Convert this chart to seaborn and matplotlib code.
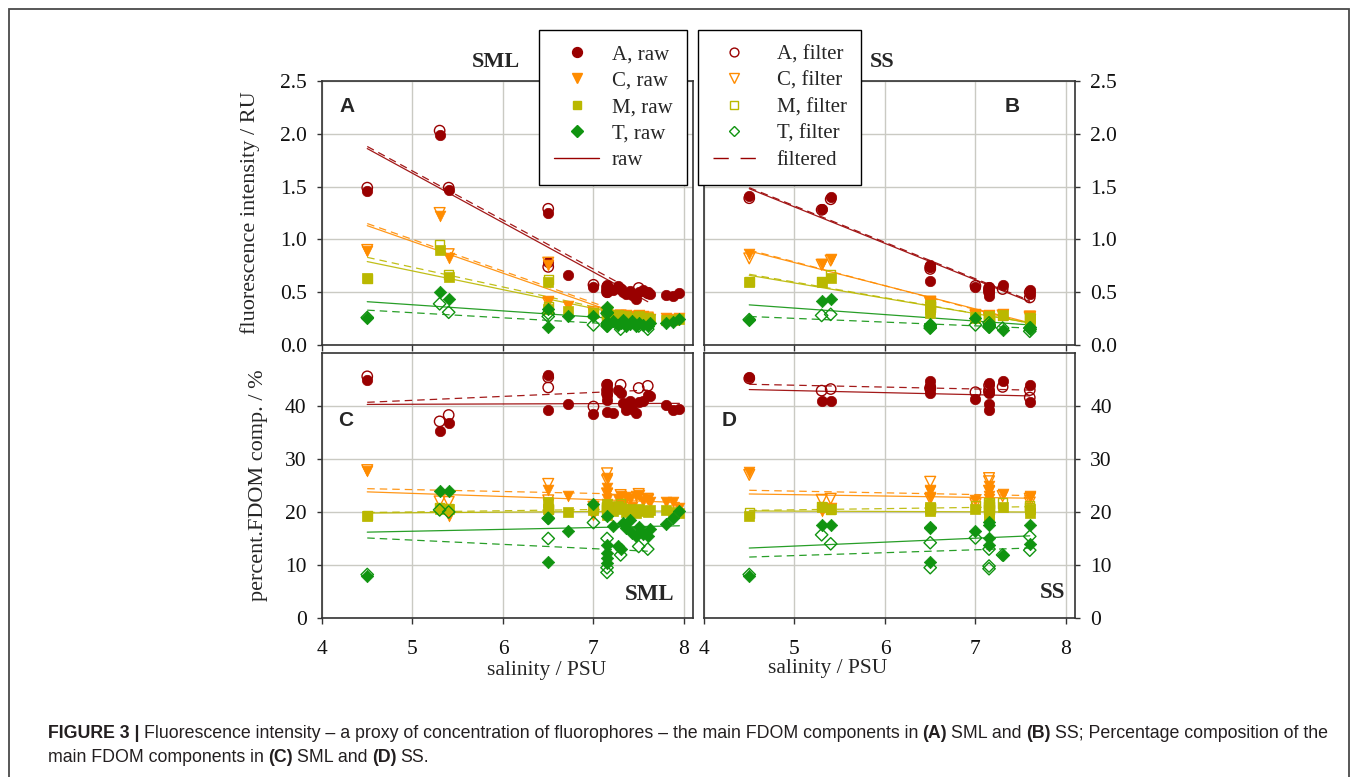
import matplotlib
matplotlib.use("Agg")
import numpy as np
import pandas as pd
import matplotlib.pyplot as plt
import seaborn as sns
from matplotlib.lines import Line2D
from matplotlib.patches import Rectangle
from matplotlib import font_manager

# ---------------------------------------------------------------- data
# SML (surface microlayer) - raw samples
sal_sml_raw = [4.5, 5.3, 5.4, 6.5, 6.5, 6.72, 7.0, 7.15, 7.15, 7.15, 7.15, 7.15, 7.22, 7.27,
               7.3, 7.33, 7.36, 7.4, 7.43, 7.47, 7.5, 7.55, 7.6, 7.63, 7.8, 7.88, 7.95]
A_sml_raw = [1.46, 1.99, 1.47, 1.25, 0.79, 0.66, 0.55, 0.57, 0.55, 0.52, 0.50, 0.56, 0.52, 0.56,
             0.53, 0.50, 0.48, 0.51, 0.47, 0.44, 0.50, 0.52, 0.50, 0.48, 0.47, 0.46, 0.49]
C_sml_raw = [0.89, 1.22, 0.82, 0.76, 0.42, 0.37, 0.30, 0.30, 0.28, 0.27, 0.25, 0.29, 0.27, 0.28,
             0.27, 0.26, 0.28, 0.27, 0.25, 0.26, 0.28, 0.27, 0.26, 0.25, 0.26, 0.25, 0.26]
M_sml_raw = [0.63, 0.90, 0.64, 0.60, 0.34, 0.32, 0.30, 0.30, 0.28, 0.27, 0.26, 0.29, 0.26, 0.28,
             0.27, 0.26, 0.27, 0.26, 0.25, 0.26, 0.27, 0.26, 0.25, 0.25, 0.24, 0.24, 0.25]
T_sml_raw = [0.26, 0.50, 0.44, 0.34, 0.17, 0.27, 0.27, 0.36, 0.31, 0.22, 0.20, 0.18, 0.23, 0.19,
             0.21, 0.24, 0.18, 0.20, 0.23, 0.18, 0.21, 0.19, 0.18, 0.21, 0.21, 0.22, 0.25]
pA_sml_raw = [45.0, 35.2, 36.7, 45.8, 39.3, 40.4, 38.5, 44.2, 43.2, 42.0, 41.2, 38.9, 38.7, 43.0,
              42.5, 40.5, 39.3, 41.0, 39.5, 38.6, 40.8, 41.0, 42.0, 41.8, 40.1, 39.3, 39.4]
pC_sml_raw = [27.7, 20.5, 19.2, 21.6, 24.2, 23.0, 19.4, 26.5, 24.5, 22.5, 21.5, 23.5, 21.0, 22.5,
              23.0, 21.5, 22.8, 22.5, 21.0, 23.0, 23.3, 22.0, 22.5, 21.8, 21.8, 21.8, 20.8]
pM_sml_raw = [19.2, 20.6, 20.5, 21.8, 20.5, 20.0, 20.4, 21.0, 20.5, 20.0, 19.5, 21.5, 20.2, 21.2,
              20.8, 20.5, 20.0, 20.6, 20.3, 19.8, 20.5, 20.2, 20.0, 20.4, 20.3, 20.0, 19.8]
pT_sml_raw = [8.0, 23.9, 23.9, 10.5, 18.9, 16.5, 21.6, 19.2, 13.8, 12.3, 11.3, 10.4, 17.3, 13.5,
              13.0, 17.9, 17.0, 18.5, 16.0, 15.4, 17.2, 15.9, 15.5, 16.8, 17.8, 18.9, 20.1]

# SML - filtered samples
sal_sml_fil = [4.5, 5.3, 5.4, 6.5, 6.5, 7.0, 7.15, 7.15, 7.15, 7.3, 7.5, 7.6]
A_sml_fil = [1.49, 2.03, 1.49, 1.29, 0.74, 0.57, 0.55, 0.52, 0.50, 0.53, 0.54, 0.49]
C_sml_fil = [0.90, 1.25, 0.86, 0.78, 0.40, 0.31, 0.30, 0.28, 0.27, 0.28, 0.27, 0.26]
M_sml_fil = [0.63, 0.95, 0.67, 0.62, 0.36, 0.31, 0.33, 0.29, 0.27, 0.28, 0.27, 0.26]
T_sml_fil = [0.26, 0.39, 0.31, 0.30, 0.27, 0.19, 0.30, 0.20, 0.18, 0.15, 0.18, 0.15]
pA_sml_fil = [45.6, 37.1, 38.3, 43.5, 45.4, 39.9, 44.0, 43.0, 42.3, 44.0, 43.4, 43.8]
pC_sml_fil = [27.9, 22.0, 21.9, 25.3, 22.2, 21.0, 27.3, 26.0, 23.5, 23.2, 23.4, 22.5]
pM_sml_fil = [19.3, 20.8, 20.6, 20.6, 20.5, 20.6, 21.0, 20.5, 20.8, 21.5, 20.5, 20.3]
pT_sml_fil = [8.2, 20.4, 20.0, 15.0, 18.8, 18.0, 15.0, 9.5, 8.6, 11.9, 13.5, 13.0]

# SS (subsurface water) - raw samples
sal_ss_raw = [4.5, 5.3, 5.4, 6.5, 6.5, 6.5, 7.0, 7.15, 7.15, 7.15, 7.15, 7.3, 7.6, 7.6]
A_ss_raw = [1.41, 1.29, 1.40, 0.76, 0.61, 0.74, 0.55, 0.55, 0.50, 0.46, 0.53, 0.57, 0.52, 0.48]
C_ss_raw = [0.86, 0.77, 0.81, 0.42, 0.36, 0.40, 0.29, 0.27, 0.26, 0.25, 0.28, 0.29, 0.27, 0.25]
M_ss_raw = [0.60, 0.60, 0.63, 0.38, 0.30, 0.34, 0.26, 0.26, 0.25, 0.24, 0.27, 0.28, 0.26, 0.24]
T_ss_raw = [0.24, 0.42, 0.44, 0.20, 0.17, 0.19, 0.26, 0.18, 0.17, 0.19, 0.20, 0.14, 0.15, 0.17]
pA_ss_raw = [45.4, 41.0, 41.0, 44.7, 42.5, 43.7, 41.4, 44.3, 42.4, 40.3, 39.3, 44.7, 44.0, 40.8]
pC_ss_raw = [27.5, 20.1, 20.8, 23.9, 22.8, 24.2, 22.3, 24.9, 23.0, 22.5, 24.0, 23.4, 23.0, 22.8]
pM_ss_raw = [19.2, 20.9, 20.6, 21.0, 20.2, 20.5, 20.6, 21.5, 20.0, 19.0, 19.5, 20.9, 19.8, 20.5]
pT_ss_raw = [8.0, 17.5, 17.6, 10.5, 17.1, 16.9, 16.5, 18.2, 17.6, 15.1, 13.8, 11.8, 17.5, 14.0]

# SS - filtered samples
sal_ss_fil = [4.5, 5.3, 5.4, 6.5, 6.5, 7.0, 7.15, 7.15, 7.15, 7.3, 7.6, 7.6]
A_ss_fil = [1.39, 1.28, 1.38, 0.72, 0.74, 0.56, 0.52, 0.54, 0.50, 0.53, 0.45, 0.50]
C_ss_fil = [0.82, 0.76, 0.80, 0.40, 0.41, 0.28, 0.26, 0.27, 0.25, 0.28, 0.26, 0.27]
M_ss_fil = [0.60, 0.60, 0.67, 0.36, 0.38, 0.27, 0.26, 0.25, 0.25, 0.28, 0.25, 0.26]
T_ss_fil = [0.24, 0.28, 0.29, 0.16, 0.18, 0.19, 0.21, 0.18, 0.17, 0.16, 0.13, 0.16]
pA_ss_fil = [45.2, 42.9, 43.2, 43.2, 43.5, 42.6, 43.9, 43.0, 42.6, 43.6, 41.6, 43.0]
pC_ss_fil = [27.0, 22.3, 22.5, 25.7, 22.5, 21.5, 26.4, 25.8, 24.0, 23.0, 21.8, 22.5]
pM_ss_fil = [19.8, 21.0, 20.4, 20.8, 20.6, 21.2, 21.7, 20.5, 21.0, 21.7, 21.3, 20.8]
pT_ss_fil = [8.2, 15.7, 14.0, 14.2, 9.5, 15.1, 13.0, 9.8, 9.3, 11.9, 15.4, 12.8]

# linear fits (salinity range, values at both ends), order A, C, M, T
fit_range_sml_int = [4.5, 7.6]
fit_range_sml_pct_raw = [4.5, 7.95]
fit_range_sml_pct_fil = [4.5, 7.6]
fit_range_ss = [4.5, 7.6]
fitA_raw = [[1.86, 0.41], [1.13, 0.20], [0.79, 0.24], [0.41, 0.23]]
fitA_fil = [[1.88, 0.44], [1.15, 0.22], [0.83, 0.25], [0.33, 0.18]]
fitB_raw = [[1.48, 0.41], [0.89, 0.21], [0.66, 0.21], [0.38, 0.19]]
fitB_fil = [[1.49, 0.42], [0.90, 0.20], [0.67, 0.21], [0.27, 0.16]]
fitC_raw = [[40.3, 40.5], [23.8, 21.8], [19.8, 20.2], [16.2, 17.4]]
fitC_fil = [[40.7, 43.0], [24.4, 23.3], [19.9, 20.6], [15.1, 12.6]]
fitD_raw = [[43.1, 41.9], [23.4, 22.6], [20.2, 20.0], [13.2, 15.5]]
fitD_fil = [[44.1, 43.0], [24.1, 23.1], [20.3, 21.0], [11.5, 13.2]]

components = ["A", "C", "M", "T"]
x_ticks = [4, 5, 6, 7, 8]
int_ticks = [0.0, 0.5, 1.0, 1.5, 2.0, 2.5]
pct_ticks = [0, 10, 20, 30, 40]

# ---------------------------------------------------------------- style
sns.set_theme(style="white")
plt.rcParams["font.family"] = ["Liberation Serif", "DejaVu Serif"]

COLORS = {"A": "#990000", "C": "#FF8C00", "M": "#BAB800", "T": "#109410"}
MARKERS = {"A": "o", "C": "v", "M": "s", "T": "D"}
SIZES = {"A": 56, "C": 60, "M": 44, "T": 40}

W, H = 1358, 777
fig = plt.figure(figsize=(W / 100, H / 100), dpi=100, facecolor="white")


def fx(p):
    return p / W


def fy(p):
    return 1 - p / H


def box(l, t, r, b):
    return [fx(l), fy(b), fx(r) - fx(l), fy(t) - fy(b)]


axA = fig.add_axes(box(322, 81, 693, 345))
axB = fig.add_axes(box(704, 81, 1075, 345))
axC = fig.add_axes(box(322, 353, 693, 618))
axD = fig.add_axes(box(704, 353, 1075, 618))


def points(ax, sal, vals, comp, filled):
    df = pd.DataFrame({"salinity": sal, "value": vals})
    common = dict(data=df, x="salinity", y="value", ax=ax, marker=MARKERS[comp],
                  s=SIZES[comp], color=COLORS[comp], edgecolor=COLORS[comp],
                  legend=False, zorder=4)
    if filled:
        sns.scatterplot(linewidth=0.5, **common)
    else:
        sns.scatterplot(facecolor="none", linewidth=1.0, **common)


def fitline(ax, xr, yv, comp, dashed):
    df = pd.DataFrame({"salinity": xr, "value": yv})
    sns.lineplot(data=df, x="salinity", y="value", ax=ax, color=COLORS[comp],
                 linewidth=0.9, linestyle=(0, (6, 4)) if dashed else "-",
                 alpha=0.9, zorder=3, legend=False, errorbar=None)


panels = [
    (axA, sal_sml_raw, [A_sml_raw, C_sml_raw, M_sml_raw, T_sml_raw],
     sal_sml_fil, [A_sml_fil, C_sml_fil, M_sml_fil, T_sml_fil],
     fit_range_sml_int, fitA_raw, fit_range_sml_int, fitA_fil),
    (axB, sal_ss_raw, [A_ss_raw, C_ss_raw, M_ss_raw, T_ss_raw],
     sal_ss_fil, [A_ss_fil, C_ss_fil, M_ss_fil, T_ss_fil],
     fit_range_ss, fitB_raw, fit_range_ss, fitB_fil),
    (axC, sal_sml_raw, [pA_sml_raw, pC_sml_raw, pM_sml_raw, pT_sml_raw],
     sal_sml_fil, [pA_sml_fil, pC_sml_fil, pM_sml_fil, pT_sml_fil],
     fit_range_sml_pct_raw, fitC_raw, fit_range_sml_pct_fil, fitC_fil),
    (axD, sal_ss_raw, [pA_ss_raw, pC_ss_raw, pM_ss_raw, pT_ss_raw],
     sal_ss_fil, [pA_ss_fil, pC_ss_fil, pM_ss_fil, pT_ss_fil],
     fit_range_ss, fitD_raw, fit_range_ss, fitD_fil),
]

for ax, s_raw, v_raw, s_fil, v_fil, r_raw, f_raw, r_fil, f_fil in panels:
    for i, comp in enumerate(components):
        fitline(ax, r_raw, f_raw[i], comp, False)
        fitline(ax, r_fil, f_fil[i], comp, True)
    for i, comp in enumerate(components):
        points(ax, s_raw, v_raw[i], comp, True)
        points(ax, s_fil, v_fil[i], comp, False)


def style(ax, ylim, yticks, fmt, left, bottom_labels):
    ax.set_xlim(4, 8.1)
    ax.set_ylim(*ylim)
    ax.set_xticks(x_ticks)
    ax.set_xticklabels([str(v) for v in x_ticks])
    ax.set_yticks(yticks)
    ax.set_yticklabels([fmt.format(v) for v in yticks])
    ax.set_facecolor("white")
    ax.grid(True, color="#CACAC3", linewidth=1.0)
    ax.set_axisbelow(True)
    for sp in ax.spines.values():
        sp.set_visible(True)
        sp.set_color("#333333")
        sp.set_linewidth(1.2)
    ax.set_xlabel("")
    ax.set_ylabel("")
    ax.tick_params(axis="x", bottom=True, top=False, direction="out", length=4,
                   width=1.0, color="#333333", labelbottom=bottom_labels,
                   labelsize=15.5, pad=12, labelcolor="#111111")
    ax.tick_params(axis="y", left=left, right=not left, labelleft=left,
                   labelright=not left, direction="out", length=3.5, width=1.0,
                   color="#333333", labelsize=15.5, pad=7.5, labelcolor="#111111")


style(axA, (0, 2.5), int_ticks, "{:.1f}", True, False)
style(axB, (0, 2.5), int_ticks, "{:.1f}", False, False)
style(axC, (0, 50), pct_ticks, "{:d}", True, True)
style(axD, (0, 50), pct_ticks, "{:d}", False, True)

# ---------------------------------------------------------------- texts
serif = ["Liberation Serif", "DejaVu Serif"]
sans = ["Liberation Sans", "DejaVu Sans"]
fig.text(fx(496), fy(62), "SML", ha="center", va="center", fontsize=16,
         fontweight="bold", family=serif)
fig.text(fx(882), fy(62), "SS", ha="center", va="center", fontsize=16,
         fontweight="bold", family=serif)
for lab, px, py in [("A", 347, 106), ("B", 1012, 106), ("C", 346, 421), ("D", 729, 421)]:
    fig.text(fx(px), fy(py), lab, ha="center", va="center", fontsize=15,
             fontweight="bold", family=sans, zorder=6)
fig.text(fx(650), fy(595), "SML", ha="center", va="center", fontsize=16.5,
         fontweight="bold", family=serif, zorder=6)
fig.text(fx(1053), fy(592), "SS", ha="center", va="center", fontsize=16.5,
         fontweight="bold", family=serif, zorder=6)

fig.text(fx(250), fy(213), "fluorescence intensity / RU", rotation=90, ha="center",
         va="center", fontsize=16, family=serif)
fig.text(fx(258), fy(485), "percent.FDOM comp. / %", rotation=90, ha="center",
         va="center", fontsize=16, family=serif)
fig.text(fx(547), fy(670), "salinity / PSU", ha="center", va="center", fontsize=15.5,
         family=serif)
fig.text(fx(828), fy(668), "salinity / PSU", ha="center", va="center", fontsize=15.5,
         family=serif)

# ---------------------------------------------------------------- legends
h_raw = [Line2D([], [], linestyle="none", marker=MARKERS[c], markersize=np.sqrt(SIZES[c]) * 0.95,
                markerfacecolor=COLORS[c], markeredgecolor=COLORS[c]) for c in components]
h_raw.append(Line2D([], [], color=COLORS["A"], linewidth=1.0))
h_fil = [Line2D([], [], linestyle="none", marker=MARKERS[c], markersize=np.sqrt(SIZES[c]) * 0.85,
                markerfacecolor="none", markeredgecolor=COLORS[c], markeredgewidth=1.0)
         for c in components]
h_fil.append(Line2D([], [], color=COLORS["A"], linewidth=1.0, linestyle=(0, (11, 8.5))))

leg_kw = dict(loc="upper left", frameon=True, fancybox=False, edgecolor="black",
              framealpha=1.0, facecolor="white", borderpad=0.7, labelspacing=0.33,
              borderaxespad=0, prop={"family": serif, "size": 15})
leg1 = fig.legend(h_raw, ["A, raw", "C, raw", "M, raw", "T, raw", "raw"],
                  bbox_to_anchor=(fx(539), fy(30)), handlelength=2.2, handletextpad=0.6,
                  **leg_kw)
leg2 = fig.legend(h_fil, ["A, filter", "C, filter", "M, filter", "T, filter", "filtered"],
                  bbox_to_anchor=(fx(698), fy(30)), handlelength=2.07, handletextpad=1.0,
                  **leg_kw)
for lg in (leg1, leg2):
    lg.get_frame().set_linewidth(1.0)
    lg.set_zorder(10)

# ---------------------------------------------------------------- frame
fig.add_artist(Rectangle((fx(8.5), -0.05), fx(1349) - fx(8.5), fy(8.5) + 0.05,
                         transform=fig.transFigure, fill=False, edgecolor="#4a4a4a",
                         linewidth=1.3))

# ---------------------------------------------------------------- caption
names = {f.name for f in font_manager.fontManager.ttflist}
cap_font = "Liberation Sans Narrow" if "Liberation Sans Narrow" in names else "Liberation Sans"
capax = fig.add_axes([0, 0, 1, 1], facecolor="none")
capax.set_axis_off()
capax.set_zorder(-1)

line1 = [("FIGURE 3 |", True, False),
         ("Fluorescence intensity \u2013 a proxy of concentration of fluorophores \u2013 "
          "the main FDOM components in", False, True),
         ("(A)", True, True), ("SML and", False, True), ("(B)", True, True),
         ("SS; Percentage composition of the", False, True)]
line2 = [("main FDOM components in", False, False), ("(C)", True, True),
         ("SML and", False, True), ("(D)", True, True), ("SS.", False, True)]

FS0 = 12.0
SPACE = 0.24


def chain(pieces, x, y, fs):
    arts = []
    prev = None
    for text, bold, space in pieces:
        kw = dict(fontsize=fs, fontweight="bold" if bold else "normal",
                  family=[cap_font, "DejaVu Sans"], color="#231f20")
        if prev is None:
            t = capax.text(x, y, text, transform=fig.transFigure, va="baseline",
                           ha="left", **kw)
        else:
            t = capax.annotate(text, xy=(1, 0), xycoords=prev,
                               xytext=(SPACE * fs if space else 0, 0),
                               textcoords="offset points", va="bottom", ha="left", **kw)
        arts.append((t, space))
        prev = t
    return arts


arts1 = chain(line1, fx(48), fy(738), FS0)
arts2 = chain(line2, fx(48), fy(762), FS0)
fig.canvas.draw()
rend = fig.canvas.get_renderer()
x0 = arts1[0][0].get_window_extent(rend).x0
x1 = arts1[-1][0].get_window_extent(rend).x1
fs_new = FS0 * (1335 - 48) / (x1 - x0)
for t, space in arts1 + arts2:
    t.set_fontsize(fs_new)
    if hasattr(t, "xyann"):
        t.xyann = (SPACE * fs_new if space else 0, 0)

fig.savefig("out.png", dpi=100, facecolor="white")
